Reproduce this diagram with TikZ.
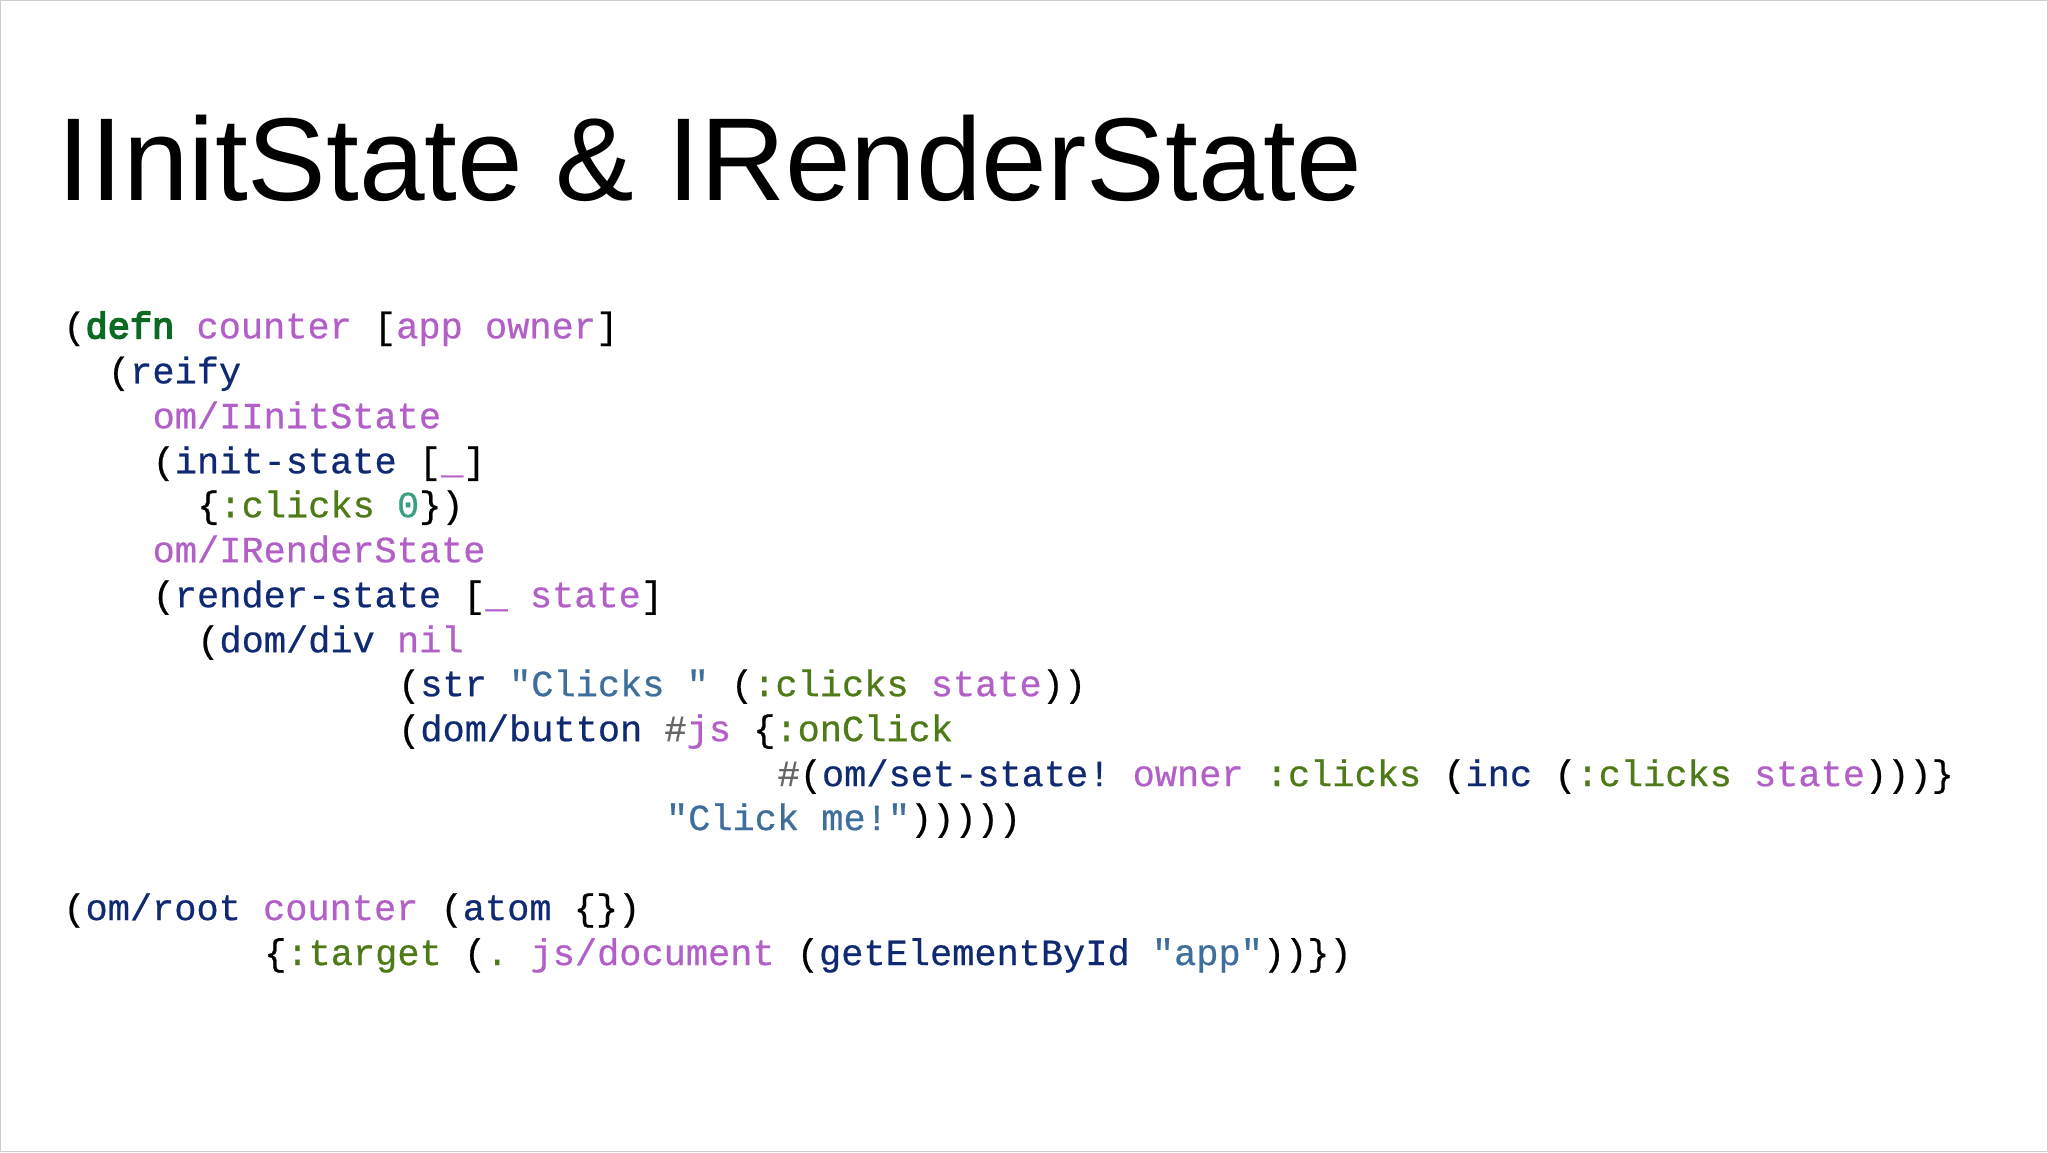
\documentclass[tikz,border=0pt]{standalone}
\usepackage{fontspec}
\setmainfont{Liberation Sans}
\newfontfamily\code[WordSpace={1,0,0},FakeBold=0.6]{Liberation Mono}
\newfontfamily\codebf[WordSpace={1,0,0},FakeBold=4]{Liberation Mono}
\definecolor{nv}{HTML}{0F2A72}
\definecolor{pu}{HTML}{B260C8}
\definecolor{gr}{HTML}{0B6B23}
\definecolor{ol}{HTML}{4F7A18}
\definecolor{te}{HTML}{3A9E80}
\definecolor{st}{HTML}{3E6E9C}
\definecolor{gy}{HTML}{666666}
\newcommand{\Nv}[1]{\textcolor{nv}{#1}}
\newcommand{\Pu}[1]{\textcolor{pu}{#1}}
\newcommand{\Kw}[1]{\textcolor{ol}{#1}}
\newcommand{\Sg}[1]{\textcolor{st}{#1}}
\frenchspacing
\tikzset{ln/.style={anchor=base west,inner sep=0pt,font=\code\fontsize{37}{40}\selectfont}}
\begin{document}
\begin{tikzpicture}[x=1pt,y=-1pt]
\path[use as bounding box,draw=gray!40,line width=1pt] (0,0) rectangle (2048,1152);
\node[anchor=base west,inner sep=0pt,font=\fontsize{118}{118}\selectfont] (title) at (57,200) {IInitState \& IRenderState};
\def\cw{22.33}
\def\bx{62.7}
\node[ln] (l1) at (\bx,338) {({\codebf\textcolor{gr}{defn}} \Pu{counter} [\Pu{app owner}]};
\node[ln] (l2) at (\bx+2*\cw,383) {(\Nv{reify}};
\node[ln] (l3) at (\bx+4*\cw,428) {\Pu{om/IInitState}};
\node[ln] (l4) at (\bx+4*\cw,473) {(\Nv{init-state} [\Pu{\_}]};
\node[ln] (l5) at (\bx+6*\cw,517) {\{\Kw{:clicks} \textcolor{te}{0}\})};
\node[ln] (l6) at (\bx+4*\cw,562) {\Pu{om/IRenderState}};
\node[ln] (l7) at (\bx+4*\cw,607) {(\Nv{render-state} [\Pu{\_ state}]};
\node[ln] (l8) at (\bx+6*\cw,652) {(\Nv{dom/div} \Pu{nil}};
\node[ln] (l9) at (\bx+15*\cw,696) {(\Nv{str} \Sg{"Clicks "} (\Kw{:clicks} \Pu{state}))};
\node[ln] (l10) at (\bx+15*\cw,741) {(\Nv{dom/button} \textcolor{gy}{\#}\Pu{js} \{\Kw{:onClick}};
\node[ln] (l11) at (\bx+32*\cw,786) {\textcolor{gy}{\#}(\Nv{om/set-state!} \Pu{owner} \Kw{:clicks} (\Nv{inc} (\Kw{:clicks} \Pu{state})))\}};
\node[ln] (l12) at (\bx+27*\cw,830) {\Sg{"Click me!"})))))};
\node[ln] (l13) at (\bx,920) {(\Nv{om/root} \Pu{counter} (\Nv{atom} \{\})};
\node[ln] (l14) at (\bx+9*\cw,965) {\{\Kw{:target} (\Kw{.} \Pu{js/document} (\Nv{getElementById} \Sg{"app"}))\})};
\end{tikzpicture}
\end{document}
